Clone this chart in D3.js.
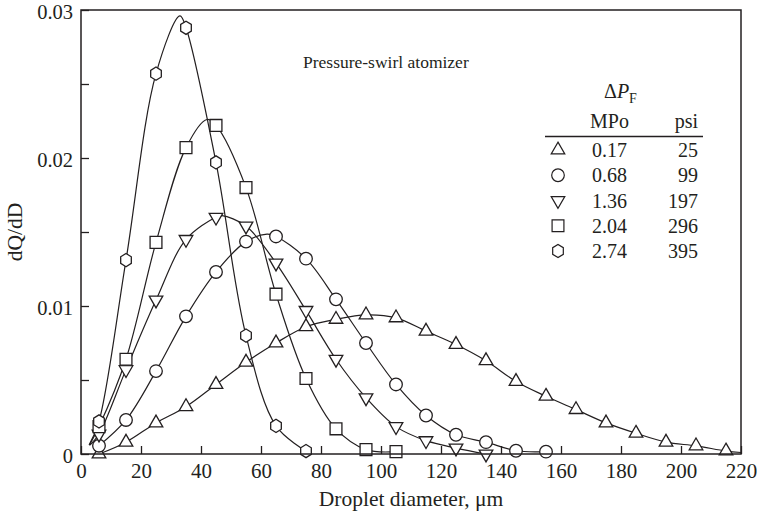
<!DOCTYPE html>
<html><head><meta charset="utf-8">
<script src="https://cdn.jsdelivr.net/npm/d3@7"></script>
<style>body{margin:0;background:#fff}svg{display:block}text{font-family:"Liberation Serif","DejaVu Serif",serif;fill:#231f20}</style>
</head><body><svg id="c" width="757" height="514"></svg>
<script>
// ---- data ----
const xTicks = [0,20,40,60,80,100,120,140,160,180,200,220];
const yTicks = [0,0.01,0.02,0.03];
const yMinorTicks = [0.005,0.015,0.025];
const yTickLabels = ["0","0.01","0.02","0.03"];

const xA  = [6,15,25,35,45,55,65,75,85,95,105,115,125,135,145,155,165,175,185,195,205,215];
const triUp   = [0,0.0008,0.0021,0.0032,0.0047,0.0062,0.0075,0.0086,0.0091,0.0094,0.0092,0.0083,0.0074,0.0063,0.0049,0.0039,0.0030,0.0021,0.0014,0.0008,0.00055,0.0002];
const xB  = [6,15,25,35,45,55,65,75,85,95,105,115,125,135,145,155];
const circ    = [0.00056,0.0023,0.0056,0.0093,0.0123,0.01435,0.0147,0.0132,0.01045,0.0075,0.0047,0.0026,0.0013,0.0008,0.00022,0.00016];
const xC  = [6,15,25,35,45,55,65,75,85,95,105,115,125,135];
const triDown = [0.00135,0.0057,0.0104,0.0145,0.0160,0.0154,0.0129,0.0097,0.0064,0.0038,0.00185,0.0009,0.0004,0.0000];
const xD  = [6,15,25,35,45,55,65,75,85,95,105];
const square  = [0.00185,0.0064,0.0143,0.0207,0.0222,0.0180,0.0108,0.0051,0.0017,0.0003,0.00016];
const xE  = [6,15,25,35,45,55,65,75];
const hexa    = [0.0022,0.0131,0.0257,0.0288,0.0197,0.0080,0.0019,0.0002];

// extra points on the fitted curves (curve only, no marker)
const extraUp   = [[220,0.0001]];
const extraCirc = [[62,0.01485]];
const extraDown = [[3.0,0.0006],[47,0.0161]];
const extraSq   = [[2.8,0.0006],[42,0.0226]];
const extraHex  = [[2.7,0.0006],[33,0.0296]];

const legendMPa = ["0.17","0.68","1.36","2.04","2.74"];
const legendPsi = ["25","99","197","296","395"];
const shapes = ["triUp","circle","triDown","square","hex"];

const series = [
  {shape:"triUp",  xs:xA, ys:triUp,   extra:extraUp},
  {shape:"circle", xs:xB, ys:circ,    extra:extraCirc},
  {shape:"triDown",xs:xC, ys:triDown, extra:extraDown},
  {shape:"square", xs:xD, ys:square,  extra:extraSq},
  {shape:"hex",    xs:xE, ys:hexa,    extra:extraHex}
];

// ---- drawing ----
const ink = "#231f20";
const svg = d3.select("#c");
const m = {l:81, r:741, t:10, b:454};
const x = d3.scaleLinear().domain([0,220]).range([m.l,m.r]);
const y = d3.scaleLinear().domain([0,0.03]).range([m.b,m.t]);

function shapePath(s){
  if(s==="circle") return d3.symbol(d3.symbolCircle, 125)();
  if(s==="square") return d3.symbol(d3.symbolSquare, 140)();
  if(s==="triUp") return d3.symbol(d3.symbolTriangle, 80)();
  if(s==="triDown") return d3.symbol(d3.symbolTriangle, 80)();
  if(s==="hex"){ const r=6.6; const pts=d3.range(6).map(i=>{const a=Math.PI/2+i*Math.PI/3;return [r*Math.cos(a)*0.93, r*Math.sin(a)];}); return "M"+pts.map(p=>p.join(",")).join("L")+"Z"; }
}
function shapeTransform(s){ return s==="triDown" ? " rotate(180)" : ""; }

const line = d3.line().x(d=>x(d[0])).y(d=>y(d[1])).curve(d3.curveCatmullRom.alpha(0.5));
const g = svg.append("g");
series.forEach(sr=>{
  const pts = sr.xs.map((v,i)=>[v,sr.ys[i]]).concat(sr.extra).sort((a,b)=>a[0]-b[0]);
  g.append("path").attr("d",line(pts)).attr("fill","none").attr("stroke",ink).attr("stroke-width",1.2);
});
series.forEach(sr=>{
  g.selectAll(null).data(sr.xs.map((v,i)=>[v,sr.ys[i]])).join("path")
    .attr("d",shapePath(sr.shape))
    .attr("transform",d=>`translate(${x(d[0])},${y(d[1])})`+shapeTransform(sr.shape))
    .attr("fill","#fff").attr("stroke",ink).attr("stroke-width",1.3);
});

// frame
svg.append("rect").attr("x",m.l).attr("y",m.t).attr("width",m.r-m.l).attr("height",m.b-m.t)
  .attr("fill","none").attr("stroke",ink).attr("stroke-width",1.5);

// axes (ticks pointing inward)
const xAxis = d3.axisBottom(x).tickValues(xTicks).tickSizeInner(-8).tickSizeOuter(0).tickPadding(9).tickFormat(d3.format("d"));
const gx = svg.append("g").attr("transform",`translate(0,${m.b})`).call(xAxis);
const yAxis = d3.axisLeft(y).tickValues(yTicks).tickSizeInner(-8).tickSizeOuter(0).tickPadding(8).tickFormat((d,i)=>yTickLabels[i]);
const gy = svg.append("g").attr("transform",`translate(${m.l},0)`).call(yAxis);
const gym = svg.append("g").attr("transform",`translate(${m.l},0)`).call(d3.axisLeft(y).tickValues(yMinorTicks).tickSizeInner(-8).tickSizeOuter(0).tickFormat(""));
[gx,gy,gym].forEach(a=>{a.select(".domain").remove(); a.selectAll("line").attr("stroke",ink).attr("stroke-width",1.3); a.selectAll("text").attr("font-family","Liberation Serif").attr("fill",ink);});
gx.selectAll("text").attr("font-size",21);
gy.selectAll("text").attr("font-size",20.5).attr("dy","0.42em");

svg.append("text").attr("x",(m.l+m.r)/2).attr("y",506).attr("text-anchor","middle").attr("font-size",21.5).text("Droplet diameter, μm");
svg.append("text").attr("transform",`translate(22,${(m.t+m.b)/2}) rotate(-90)`).attr("text-anchor","middle").attr("font-size",21.5).text("dQ/dD");

// title
svg.append("text").attr("x",303).attr("y",68).attr("font-size",17.5).text("Pressure-swirl atomizer");

// legend
const lg = svg.append("g");
const dp = lg.append("text").attr("x",604).attr("y",98).attr("font-size",20);
dp.append("tspan").text("Δ");
dp.append("tspan").attr("font-style","italic").text("P");
dp.append("tspan").attr("font-size",14).attr("dy",5).text("F");
lg.append("text").attr("x",590).attr("y",128).attr("font-size",20).text("MPo");
lg.append("text").attr("x",698).attr("y",128).attr("text-anchor","end").attr("font-size",20).text("psi");
lg.append("line").attr("x1",545).attr("x2",703).attr("y1",136.5).attr("y2",136.5).attr("stroke",ink).attr("stroke-width",1.3);
const rowY = d3.scalePoint().domain(d3.range(5)).range([150,251]);
legendMPa.forEach((v,i)=>{
  const cy = rowY(i);
  lg.append("path").attr("d",shapePath(shapes[i])).attr("transform",`translate(558,${cy})`+shapeTransform(shapes[i]))
    .attr("fill","#fff").attr("stroke",ink).attr("stroke-width",1.2);
  lg.append("text").attr("x",592).attr("y",cy+7).attr("font-size",20).text(v);
  lg.append("text").attr("x",698).attr("y",cy+7).attr("text-anchor","end").attr("font-size",20).text(legendPsi[i]);
});
</script></body></html>
